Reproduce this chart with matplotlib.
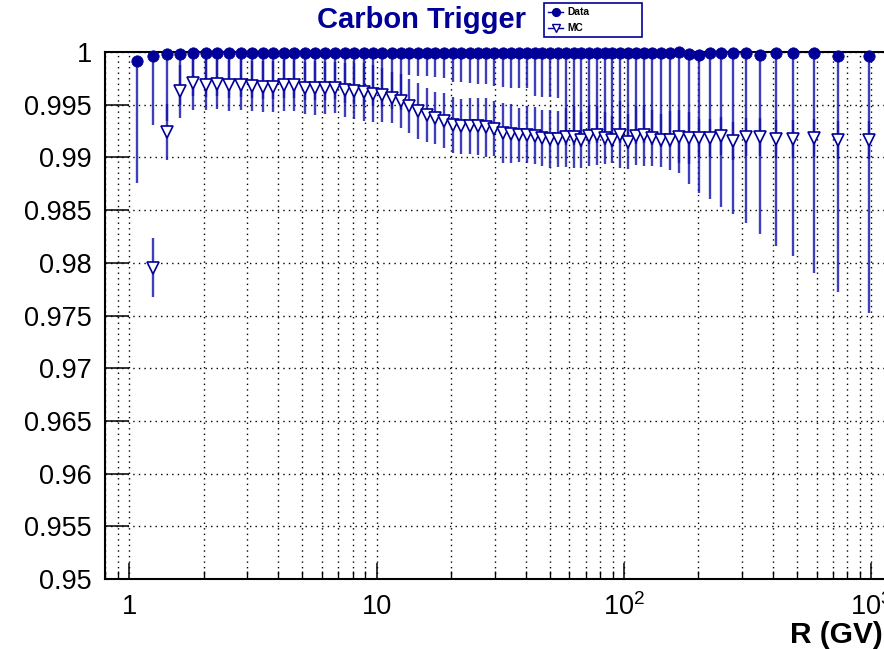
import numpy as np
import matplotlib
matplotlib.use("Agg")
import matplotlib.pyplot as plt
from matplotlib import ticker
from matplotlib.lines import Line2D
from matplotlib.patches import Rectangle

plt.rcParams['font.family'] = ['Liberation Sans', 'DejaVu Sans']
plt.rcParams['mathtext.fontset'] = 'custom'
plt.rcParams['mathtext.rm'] = 'Liberation Sans'
plt.rcParams['mathtext.it'] = 'Liberation Sans:italic'
plt.rcParams['mathtext.bf'] = 'Liberation Sans:bold'

# ---------------- data ----------------
r_gv = [1.08, 1.245, 1.42, 1.61, 1.815, 2.035, 2.275, 2.535, 2.82, 3.13,
        3.465, 3.83, 4.225, 4.655, 5.125, 5.635, 6.185, 6.78, 7.425, 8.12,
        8.87, 9.68, 10.55, 11.5, 12.5, 13.55, 14.7, 15.95, 17.3, 18.75,
        20.3, 21.95, 23.75, 25.7, 27.75, 29.95, 32.3, 34.8, 37.5, 40.4,
        43.5, 46.8, 50.35, 54.15, 58.2, 62.55, 67.25, 72.3, 77.7, 83.5,
        89.75, 96.5, 104, 112, 120.5, 130, 141, 153.5, 167.5, 183.5,
        201.5, 222, 246, 275, 310.5, 354.5, 410, 483, 584, 732.5, 976]

data_eff = [0.99917, 0.99965, 0.99978, 0.99981, 0.99988, 0.99988, 0.99988, 0.99988, 0.99988, 0.99988,
            0.99988, 0.99988, 0.99988, 0.99988, 0.99988, 0.99988, 0.99988, 0.99988, 0.99988, 0.99988,
            0.99988, 0.99988, 0.99988, 0.99988, 0.99988, 0.99988, 0.99988, 0.99988, 0.99988, 0.99988,
            0.99988, 0.99988, 0.99988, 0.99988, 0.99988, 0.99988, 0.99988, 0.99988, 0.99988, 0.99988,
            0.99988, 0.99988, 0.99988, 0.99988, 0.99988, 0.99988, 0.99988, 0.99988, 0.99988, 0.99988,
            0.99988, 0.99988, 0.99995, 0.99988, 0.99988, 0.99988, 0.99988, 0.99988, 0.99998, 0.99978,
            0.99972, 0.99988, 0.99988, 0.99988, 0.99988, 0.99972, 0.99988, 0.99988, 0.99988, 0.99965,
            0.99962]

data_low = [0.9876, 0.99307, 0.9935, 0.9950, 0.9958, 0.9957, 0.9958, 0.9956, 0.9957, 0.9956,
            0.9955, 0.9955, 0.9956, 0.9956, 0.9954, 0.9954, 0.9954, 0.9955, 0.9952, 0.9951,
            0.9950, 0.9949, 0.9948, 0.9946, 0.9945, 0.9978, 0.9977, 0.9977, 0.9976, 0.9975,
            0.9972, 0.9972, 0.9971, 0.9970, 0.9970, 0.9968, 0.9967, 0.9966, 0.9966, 0.9966,
            0.9958, 0.9957, 0.9957, 0.9956, 0.9912, 0.9912, 0.9910, 0.9913, 0.9914, 0.9912,
            0.9910, 0.9914, 0.9908, 0.9913, 0.9914, 0.9912, 0.9910, 0.9910, 0.98852, 0.98748,
            0.98659, 0.98602, 0.98532, 0.9846, 0.98375, 0.98270, 0.98162, 0.98067, 0.9790, 0.97726,
            0.97521]

mc_eff = [np.nan, 0.97953, 0.99241, 0.99627, 0.99703, 0.99690, 0.99700, 0.99684, 0.99690, 0.99677,
          0.99671, 0.99671, 0.99684, 0.99684, 0.99658, 0.99658, 0.99658, 0.99663, 0.99641, 0.99632,
          0.99622, 0.99606, 0.99595, 0.99567, 0.99532, 0.99488, 0.99437, 0.99405, 0.99374, 0.99348,
          0.99304, 0.99295, 0.99295, 0.99295, 0.99285, 0.99272, 0.99229, 0.99226, 0.99216, 0.99213,
          0.99206, 0.99184, 0.99177, 0.99177, 0.99190, 0.99190, 0.99165, 0.99203, 0.99210, 0.99184,
          0.99168, 0.99216, 0.99149, 0.99206, 0.99210, 0.99184, 0.99162, 0.99162, 0.99197, 0.99185,
          0.99187, 0.99184, 0.99200, 0.99156, 0.99194, 0.99190, 0.99175, 0.99175, 0.99181, 0.99168,
          0.99165]

mc_err = [np.nan, 0.0028, 0.0027, 0.0025, 0.0025, 0.0024, 0.0024, 0.0024, 0.0024, 0.0024,
          0.0024, 0.0024, 0.0024, 0.0024, 0.0025, 0.00256, 0.00247, 0.00245, 0.00255, 0.00268,
          0.00277, 0.00268, 0.00256, 0.00243, 0.00256, 0.00259, 0.00266, 0.00256, 0.0025, 0.00262,
          0.00266, 0.00263, 0.00266, 0.00272, 0.00279, 0.00259, 0.00285, 0.0028, 0.00256, 0.0027,
          0.0027, 0.0027, 0.00275, 0.00266, 0.0028, 0.00294, 0.0027, 0.00285, 0.0028, 0.00247,
          0.00224, 0.0032, 0.0026, 0.0028, 0.0029, 0.00266, 0.0025, 0.0028, 0.0025, 0.0025,
          0.0018, 0.0018, 0.0018, 0.0018, 0.0018, 0.0018, 0.0018, 0.0018, 0.0018, 0.0018,
          0.0018]

y_ticks = [0.95, 0.955, 0.96, 0.965, 0.97, 0.975, 0.98, 0.985, 0.99, 0.995, 1.0]
y_tick_labels = ['0.95', '0.955', '0.96', '0.965', '0.97', '0.975', '0.98', '0.985', '0.99', '0.995', '1']
x_ticks = [1, 10, 100, 1000]
x_tick_labels = ['1', '10', r'$10^2$', r'$10^3$']

title = 'Carbon Trigger'
x_title = 'R (GV)'
legend_labels = ['Data', 'MC']

# ---------------- figure ----------------
W, H = 884, 649
fig = plt.figure(figsize=(W / 100, H / 100), dpi=100)
ax_left, ax_right, ax_top, ax_bottom = 105.2, 899.6, 52, 579
ax = fig.add_axes([ax_left / W, (H - ax_bottom) / H, (ax_right - ax_left) / W, (ax_bottom - ax_top) / H])

blue = '#000099'
bar_col = (0.08, 0.08, 0.68, 0.82)

x = np.array(r_gv)
d = np.array(data_eff)
dl = np.array(data_low)
m = np.array(mc_eff)
me = np.array(mc_err)

ax.set_xscale('log')
ax.set_xlim(0.8, 1300)
ax.set_ylim(0.95, 1.0)

# error bars
ax.errorbar(x, d, yerr=[d - dl, np.zeros_like(d)], fmt='none', ecolor=bar_col,
            elinewidth=1.7, capsize=0, zorder=3)
ax.errorbar(x, m, yerr=me, fmt='none', ecolor=bar_col, elinewidth=1.7, capsize=0, zorder=3)

# markers
ax.plot(x, m, linestyle='none', marker='v', markersize=8.4, markerfacecolor='white',
        markeredgecolor=blue, markeredgewidth=1.2, zorder=5)
ax.plot(x, d, linestyle='none', marker='o', markersize=8.2, markerfacecolor=blue,
        markeredgecolor=blue, markeredgewidth=0.5, zorder=6, clip_on=False)

# axes styling
for side in ['left', 'bottom', 'top']:
    ax.spines[side].set_linewidth(1.5)
    ax.spines[side].set_color('black')
ax.spines['right'].set_visible(False)

ax.yaxis.set_major_locator(ticker.FixedLocator(y_ticks))
ax.yaxis.set_major_formatter(ticker.FixedFormatter(y_tick_labels))
ax.yaxis.set_minor_locator(ticker.NullLocator())
ax.xaxis.set_major_locator(ticker.FixedLocator(x_ticks))
ax.xaxis.set_major_formatter(ticker.FixedFormatter(x_tick_labels))
ax.xaxis.set_minor_locator(ticker.LogLocator(base=10, subs=np.arange(2, 10)))
ax.xaxis.set_minor_formatter(ticker.NullFormatter())

ax.tick_params(axis='y', which='major', direction='in', length=17.3, width=1.1,
               labelsize=19.5, pad=9.5, right=False)
ax.tick_params(axis='x', which='major', direction='in', length=11.3, width=1.1,
               labelsize=19.5, pad=10.5, top=False)
ax.tick_params(axis='x', which='minor', direction='in', length=5.7, width=1.0, top=False)

grid_style = dict(color='black', linestyle=(0, (1.0, 3.0)), linewidth=1.0)
ax.grid(True, axis='x', which='both', **grid_style)
ax.grid(True, axis='y', which='major', **grid_style)
ax.set_axisbelow(True)

# title
fig.text(421.7 / W, 1 - 28.5 / H, title, ha='center', va='baseline', fontsize=21,
         fontweight='bold', color=blue)

# x-axis title
fig.text(883 / W, 1 - 643 / H, x_title, ha='right', va='baseline', fontsize=21.5,
         fontweight='bold', color='black')

# legend box
fig.add_artist(Rectangle((544 / W, 1 - 37 / H), 98 / W, 34 / H, transform=fig.transFigure,
                         facecolor='white', edgecolor=blue, linewidth=1.2))
leg_y = [12, 28]
leg_markers = [dict(marker='o', markerfacecolor=blue, markersize=5.6),
               dict(marker='v', markerfacecolor='white', markersize=6.0)]
for lab, yy, mk in zip(legend_labels, leg_y, leg_markers):
    fig.add_artist(Line2D([548 / W, 563 / W], [1 - yy / H, 1 - yy / H], transform=fig.transFigure,
                          color=blue, linewidth=1.0))
    fig.add_artist(Line2D([555.5 / W], [1 - yy / H], transform=fig.transFigure, linestyle='none',
                          markeredgecolor=blue, markeredgewidth=1.0, **mk))
    fig.text(567 / W, 1 - yy / H, lab, ha='left', va='center', fontsize=7.4,
             fontweight='bold', color='black')

fig.savefig('out.png', dpi=100)
